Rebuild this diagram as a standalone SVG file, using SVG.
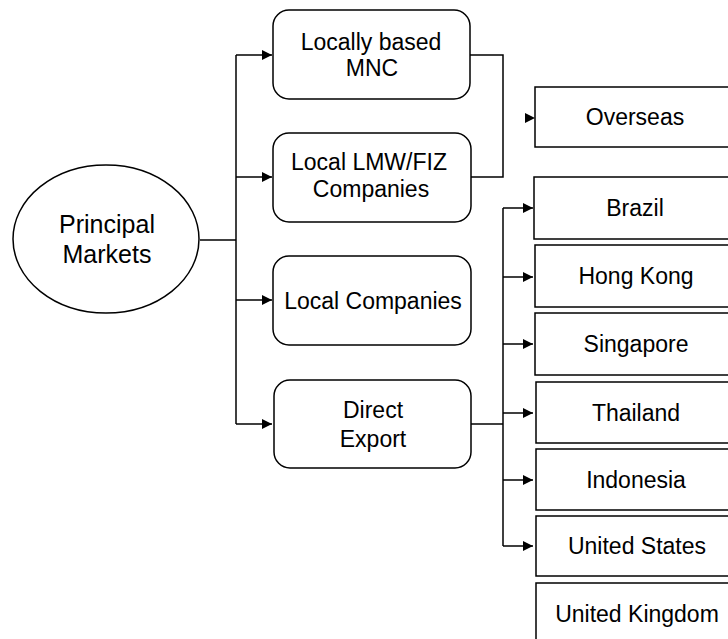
<svg xmlns="http://www.w3.org/2000/svg" width="728" height="639" viewBox="0 0 728 639">
<style>
.box{fill:#fff;stroke:#000;stroke-width:1.5}
.ln{fill:none;stroke:#000;stroke-width:1.5}
.t{font-family:"Liberation Sans",Arial,sans-serif;font-size:23px;fill:#000;text-anchor:middle}
.te{font-family:"Liberation Sans",Arial,sans-serif;font-size:25px;fill:#000;text-anchor:middle}
</style>
<defs>
<marker id="ah" viewBox="0 0 10 10" refX="10" refY="5" markerWidth="10" markerHeight="10" markerUnits="userSpaceOnUse" orient="auto">
<path d="M0,0 L10,5 L0,10 Z" fill="#000"/>
</marker>
</defs>
<rect width="728" height="639" fill="#fff"/>
<g id="connectors">
<path class="ln" d="M200,240 H236"/>
<path class="ln" d="M236,55 V424"/>
<path class="ln" d="M236,55 H272" marker-end="url(#ah)"/>
<path class="ln" d="M236,177 H272" marker-end="url(#ah)"/>
<path class="ln" d="M236,300 H272" marker-end="url(#ah)"/>
<path class="ln" d="M236,424 H272" marker-end="url(#ah)"/>
<path class="ln" d="M470,55 H503 V177 H471"/>
<path d="M525,113 L535,118 L525,123 Z" fill="#000"/>
<path class="ln" d="M471,424 H503"/>
<path class="ln" d="M503,208 V546"/>
<path class="ln" d="M503,208 H533" marker-end="url(#ah)"/>
<path class="ln" d="M503,277 H533" marker-end="url(#ah)"/>
<path class="ln" d="M503,344 H533" marker-end="url(#ah)"/>
<path class="ln" d="M503,413 H533" marker-end="url(#ah)"/>
<path class="ln" d="M503,480 H533" marker-end="url(#ah)"/>
<path class="ln" d="M503,546 H533" marker-end="url(#ah)"/>
</g>
<g id="principal-markets">
<ellipse class="box" cx="106" cy="239" rx="93" ry="74"/>
<text class="te" x="107" y="233">Principal</text>
<text class="te" x="107" y="263">Markets</text>
</g>
<g id="locally-based-mnc">
<rect class="box" x="273" y="10" width="197" height="89" rx="16"/>
<text class="t" x="371" y="50">Locally based</text>
<text class="t" x="372" y="76">MNC</text>
</g>
<g id="local-lmw-fiz">
<rect class="box" x="273" y="133" width="198" height="89" rx="16"/>
<text class="t" x="369" y="170">Local LMW/FIZ</text>
<text class="t" x="371" y="197">Companies</text>
</g>
<g id="local-companies">
<rect class="box" x="273" y="256" width="198" height="89" rx="16"/>
<text class="t" x="373" y="309">Local Companies</text>
</g>
<g id="direct-export">
<rect class="box" x="274" y="380" width="197" height="88" rx="16"/>
<text class="t" x="373" y="418">Direct</text>
<text class="t" x="373" y="447">Export</text>
</g>
<g id="overseas">
<rect class="box" x="535" y="87" width="210" height="60"/>
<text class="t" x="635" y="125">Overseas</text>
</g>
<g id="brazil">
<rect class="box" x="534" y="177" width="210" height="62"/>
<text class="t" x="635" y="216">Brazil</text>
</g>
<g id="hong-kong">
<rect class="box" x="535" y="245" width="210" height="62"/>
<text class="t" x="636" y="284">Hong Kong</text>
</g>
<g id="singapore">
<rect class="box" x="535" y="313" width="210" height="62"/>
<text class="t" x="636" y="352">Singapore</text>
</g>
<g id="thailand">
<rect class="box" x="536" y="382" width="210" height="61"/>
<text class="t" x="636" y="421">Thailand</text>
</g>
<g id="indonesia">
<rect class="box" x="536" y="449" width="210" height="61"/>
<text class="t" x="636" y="488">Indonesia</text>
</g>
<g id="united-states">
<rect class="box" x="536" y="516" width="210" height="60"/>
<text class="t" x="637" y="554">United States</text>
</g>
<g id="united-kingdom">
<rect class="box" x="536" y="583" width="210" height="70"/>
<text class="t" x="637" y="622">United Kingdom</text>
</g>
</svg>
